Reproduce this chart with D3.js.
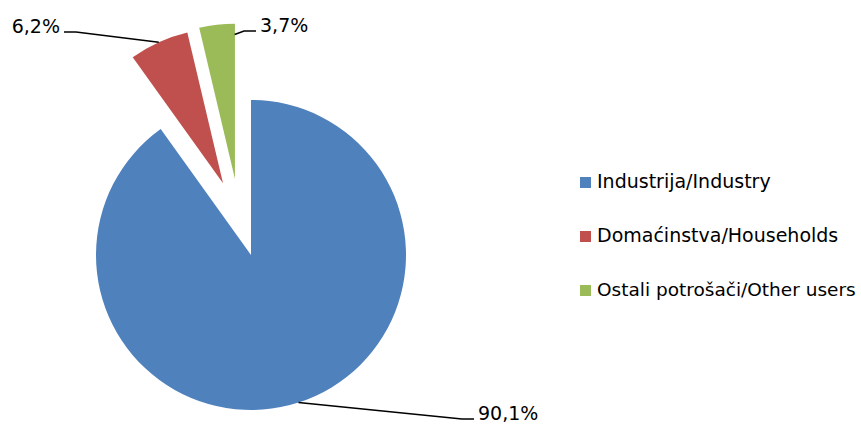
<!DOCTYPE html>
<html>
<head>
<meta charset="utf-8">
<script src="https://cdn.jsdelivr.net/npm/d3@7"></script>
<style>
    body { margin: 0; background: #fff; }
    svg { display: block; }
    text { font-family: "DejaVu Sans", Verdana, sans-serif; fill: #000; }
</style>
</head>
<body>
<div id="chart"></div>
<script>
// data
const categories = ["Industrija/Industry", "Domaćinstva/Households", "Ostali potrošači/Other users"];
const values = [90.1, 6.2, 3.7];
const valueLabels = ["90,1%", "6,2%", "3,7%"];
const colors = ["#4F81BD", "#C0504D", "#9BBB59"];

const width = 861, height = 424;
const cx = 251, cy = 255, radius = 155;
const fontsize = 19;

// exploded slices: distance in px and direction in degrees (clockwise from 12 o'clock)
const explode = [
    { d: 0, a: 0 },
    { d: 77, a: 338.7 },
    { d: 78, a: 348.1 }
];
// data label position relative to pie centre, and where the leader touches the slice
const labelLayout = [
    { dx: 227, dy: 165, anchor: "start", hitA: null, hitR: 1 },
    { dx: -191, dy: -222, anchor: "end", hitA: null, hitR: 1 },
    { dx: 9, dy: -223, anchor: "start", hitA: 359.9, hitR: 0.93 }
];

const rad = deg => deg * Math.PI / 180;
const polar = (a, r) => [Math.sin(a) * r, -Math.cos(a) * r];

const svg = d3.select("#chart")
    .append("svg")
    .attr("width", width)
    .attr("height", height);

const pie = d3.pie().sort(null).value(d => d);
const arcs = pie(values);
const arc = d3.arc().innerRadius(0).outerRadius(radius);

const offsets = arcs.map((d, i) => polar(rad(explode[i].a), explode[i].d));

const content = svg.append("g")
    .attr("class", "content")
    .attr("transform", `translate(${cx},${cy})`);

content.selectAll("path.slice")
    .data(arcs)
    .enter().append("path")
    .attr("class", "slice")
    .attr("transform", (d, i) => `translate(${offsets[i][0]},${offsets[i][1]})`)
    .attr("d", arc)
    .attr("fill", (d, i) => colors[i]);

/* leader lines + labels */
arcs.forEach((d, i) => {
    const l = labelLayout[i];
    const a = l.hitA === null ? (d.startAngle + d.endAngle) / 2 : rad(l.hitA);
    const hit = polar(a, radius * l.hitR);
    const hx = hit[0] + offsets[i][0], hy = hit[1] + offsets[i][1];
    const dir = l.anchor === "start" ? -1 : 1;
    const sx = l.dx + dir * 4, sy = l.dy - 1;
    const ex = sx + dir * 12;

    content.append("path")
        .attr("class", "leader")
        .attr("d", d3.line()([[sx, sy], [ex, sy], [hx, hy]]))
        .attr("fill", "none")
        .attr("stroke", "#000")
        .attr("stroke-width", 1.5);

    content.append("text")
        .attr("x", l.dx)
        .attr("y", l.dy)
        .attr("text-anchor", l.anchor)
        .attr("font-size", fontsize)
        .text(valueLabels[i]);
});

/* legend */
const legendX = 580, legendTextGap = 17;
const legend = svg.append("g")
    .attr("class", "legend")
    .attr("transform", `translate(${legendX},177)`);

const item = legend.selectAll("g")
    .data(categories)
    .enter().append("g")
    .attr("transform", (d, i) => `translate(0,${i * 54})`);

item.append("rect")
    .attr("width", 11)
    .attr("height", 11)
    .attr("fill", (d, i) => colors[i]);

const maxTextWidth = width - legendX - legendTextGap - 4;
item.append("text")
    .attr("x", legendTextGap)
    .attr("y", 11)
    .attr("font-size", fontsize)
    .text(d => d)
    .each(function () {
        // shrink the long entry a little so it stays inside the window
        const len = this.getComputedTextLength();
        if (len > maxTextWidth) {
            d3.select(this).attr("font-size", Math.floor(fontsize * maxTextWidth / len * 10) / 10);
        }
    });
</script>
</body>
</html>
